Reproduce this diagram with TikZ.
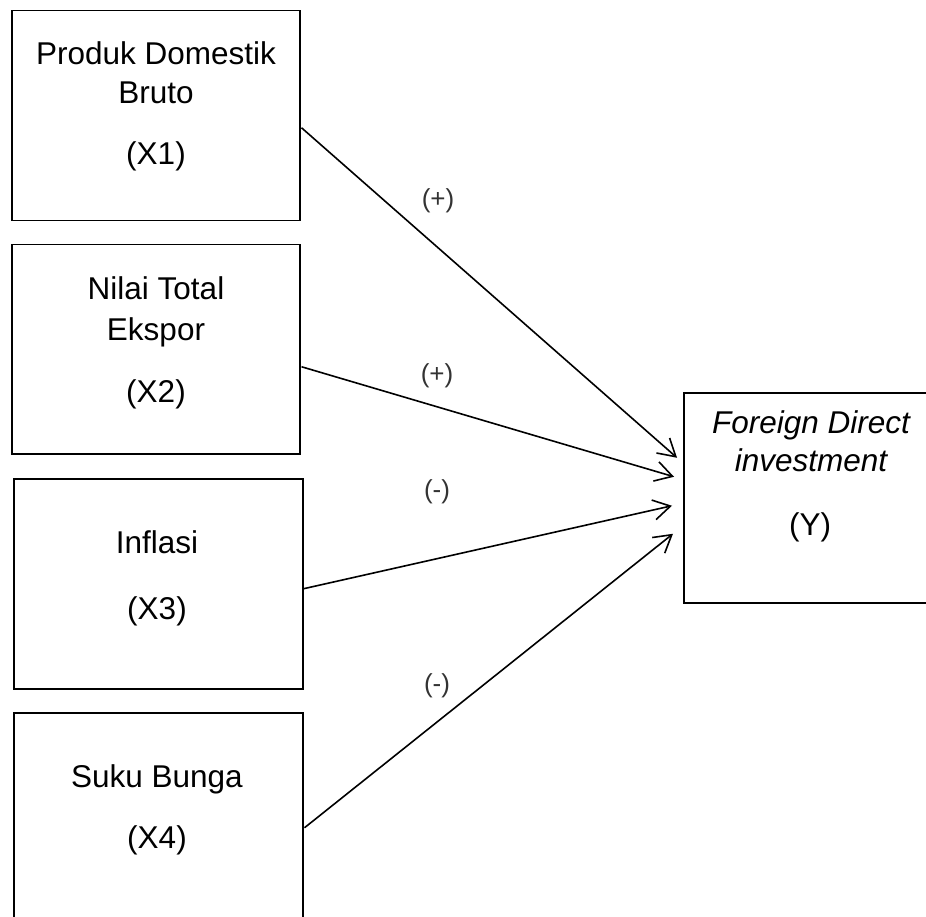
\documentclass[tikz,border=0pt]{standalone}
\usepackage{fontspec}
\setmainfont{Liberation Sans}
\usetikzlibrary{arrows.meta}
\begin{document}
\begin{tikzpicture}[x=1pt,y=-1pt,
  box/.style={draw,line width=1.5pt,inner sep=0pt,anchor=north west},
  txt/.style={anchor=base,inner sep=0pt,font=\fontsize{31.5}{36}\selectfont},
  sign/.style={inner sep=0pt,font=\fontsize{26}{30}\selectfont,text=black!80},
  link/.style={line width=1.6pt,-{Straight Barb[length=17pt,width=20pt,line width=1.6pt]}}]
\useasboundingbox (0,0) rectangle (926,917);
\begin{scope}
\clip (0,0) rectangle (926,917);
% boxes
\node[box,minimum width=288pt,minimum height=210pt] (x1) at (11,10) {};
\node[box,minimum width=288pt,minimum height=209pt] (x2) at (11,244) {};
\node[box,minimum width=289pt,minimum height=210pt] (x3) at (13,478) {};
\node[box,minimum width=289pt,minimum height=220pt] (x4) at (13,712) {};
\node[box,minimum width=254pt,minimum height=210pt] (y) at (683,392) {};
% texts
\node[txt] (t1a) at (156,65) {Produk Domestik};
\node[txt] (t1b) at (156,104) {Bruto};
\node[txt] (t1c) at (156,165) {(X1)};
\node[txt] (t2a) at (156,299) {Nilai Total};
\node[txt] (t2b) at (156,340) {Ekspor};
\node[txt] (t2c) at (156,402) {(X2)};
\node[txt] (t3a) at (157,553) {Inflasi};
\node[txt] (t3b) at (157,619) {(X3)};
\node[txt] (t4a) at (157,787) {Suku Bunga};
\node[txt] (t4b) at (157,848) {(X4)};
\node[txt,font=\fontsize{31.5}{36}\selectfont\itshape] (tya) at (811,433) {Foreign Direct};
\node[txt,font=\fontsize{31.5}{36}\selectfont\itshape] (tyb) at (811,471) {investment};
\node[txt] (tyc) at (810,535) {(Y)};
% connectors
\draw[link] ([xshift=1pt,yshift=-12pt]x1.east) -- ([xshift=-6pt,yshift=40pt]y.west);
\draw[link] ([xshift=1pt,yshift=-17.5pt]x2.east) -- ([xshift=-9pt,yshift=21pt]y.west);
\draw[link] ([xshift=0pt,yshift=-5pt]x3.east) -- ([xshift=-11pt,yshift=-8pt]y.west);
\draw[link] ([xshift=1pt,yshift=-5pt]x4.east) -- ([xshift=-10pt,yshift=-36pt]y.west);
% signs
\node[sign] (s1) at (438,201) {(+)};
\node[sign] (s2) at (437,376) {(+)};
\node[sign] (s3) at (437,492) {(-)};
\node[sign] (s4) at (437,686) {(-)};
\end{scope}
\end{tikzpicture}
\end{document}
